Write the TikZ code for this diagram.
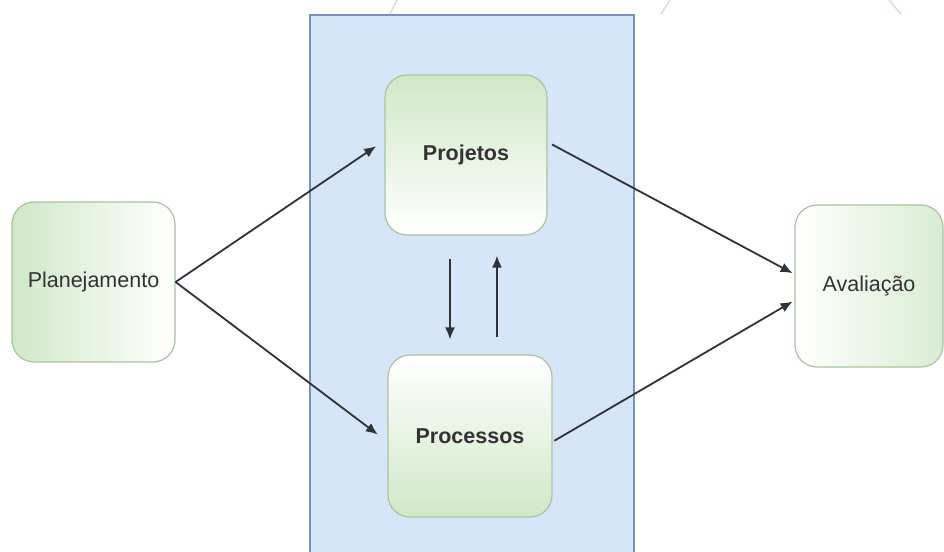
\documentclass[tikz,border=0pt]{standalone}
\usepackage{fontspec}
\setmainfont{Liberation Sans}
\usepackage{xcolor}
\usetikzlibrary{positioning, arrows.meta}

\definecolor{boxgreen}{RGB}{208,232,200}
\definecolor{boxline}{RGB}{170,195,160}
\definecolor{areafill}{RGB}{215,229,248}
\definecolor{arealine}{RGB}{120,145,185}
\definecolor{arrowgray}{RGB}{45,50,60}
\definecolor{faintgreen}{RGB}{205,228,210}

\begin{document}
\begin{tikzpicture}[
    x=1pt, y=-1pt,
    stage/.style={rectangle, rounded corners=22pt, draw=boxline, line width=1.2pt,
        text=black!80, font=\fontsize{21.5}{24}\selectfont, align=center},
    flow/.style={-{Latex[length=12pt,width=10pt]}, draw=arrowgray, line width=1.8pt}
]
    \useasboundingbox (0,0) rectangle (944,551);

    % faint lines at the top
    \draw[faintgreen, line width=1.5pt] (397,0) -- (390,14);
    \draw[faintgreen, line width=1.5pt] (670,0) -- (661,14);
    \draw[faintgreen, line width=1.5pt] (889,0) -- (901,14);

    % Area
    \draw[fill=areafill, draw=arealine, line width=1.3pt] (310,15) rectangle (634,575);

    % Stages
    \node[stage, minimum width=163pt, minimum height=160pt, left color=boxgreen, right color=white]
        (plan) at (93.5,282) {Planejamento};
    \node[stage, minimum width=162pt, minimum height=160pt, top color=boxgreen, bottom color=white,
        font=\fontsize{21.5}{24}\selectfont\bfseries]
        (proj) at (466,155) {Projetos};
    \node[stage, minimum width=164pt, minimum height=162pt, top color=white, bottom color=boxgreen,
        font=\fontsize{21.5}{24}\selectfont\bfseries]
        (proc) at (470,436) {Processos};
    \node[stage, minimum width=148pt, minimum height=162pt, left color=white, right color=boxgreen!80]
        (aval) at (869,286) {Avaliação};

    % Arrows
    \draw[flow, shorten >=10pt] (plan.east) -- (proj.170);
    \draw[flow, shorten >=12pt] (plan.east) -- (proc.184);
    \draw[flow, shorten <=5pt, shorten >=2pt] (proj.9) -- (aval.171);
    \draw[flow, shorten <=2pt, shorten >=2pt] (proc.-4) -- (aval.191);
    \draw[flow, shorten <=23pt, shorten >=15pt] ([xshift=-16pt]proj.south) -- ([xshift=-20pt]proc.north);
    \draw[flow, shorten <=17pt, shorten >=20pt] ([xshift=27pt]proc.north) -- ([xshift=31pt]proj.south);
\end{tikzpicture}
\end{document}
